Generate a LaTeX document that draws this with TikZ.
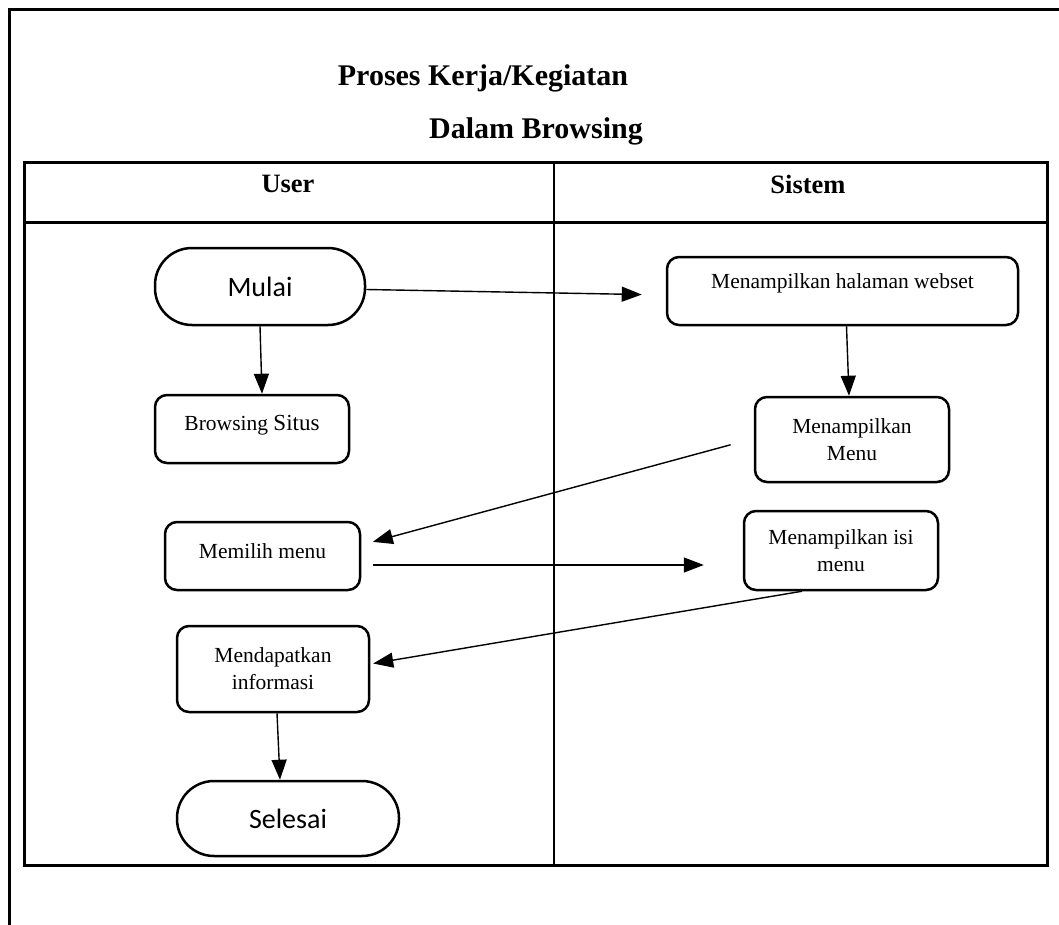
\documentclass[tikz,border=0pt]{standalone}
\usepackage{fontspec}
\setmainfont{Liberation Serif}
\newfontfamily\calfont{Carlito}
\usetikzlibrary{arrows.meta}
\tikzset{
  frame/.style={line width=3pt},
  procbox/.style={draw, line width=2.5pt, rounded corners=12pt, inner sep=0pt, align=center,
    font=\fontsize{21.5}{27}\selectfont},
  termbox/.style={draw, line width=2.5pt, rounded corners=37pt, inner sep=0pt, align=center,
    font=\calfont\fontsize{28}{34}\selectfont},
  arr/.style={line width=1.4pt, -{Triangle[length=20pt,width=15pt]}},
  titletext/.style={font=\fontsize{30}{36}\selectfont\bfseries, inner sep=0pt},
  headtext/.style={font=\fontsize{26.5}{32}\selectfont\bfseries, inner sep=0pt}
}
\begin{document}
\begin{tikzpicture}[x=1pt,y=-1pt]
\useasboundingbox (0,0) rectangle (1059,925);
% outer page frame
\draw[frame] (1059,10) -- (9,10) -- (9,925);
% table
\draw[frame] (24,163) rectangle (1047,865);
\draw[frame] (24,223) -- (1047,223);
\draw[line width=2pt] (554,163) -- (554,865);
% titles
\node[titletext] (t1) at (483,78) {Proses Kerja/Kegiatan};
\node[titletext] (t2) at (536,131) {Dalam Browsing};
\node[headtext] (hu) at (288,184) {User};
\node[headtext] (hs) at (808,184) {Sistem};
% nodes
\node[termbox, minimum width=210pt, minimum height=77pt] (mulai) at (260,286.5) {Mulai};
\node[procbox, minimum width=194pt, minimum height=68pt, text depth=13pt] (browse) at (252,429) {Browsing {\fontsize{23}{27}\selectfont Situs}};
\node[procbox, minimum width=351pt, minimum height=68pt, text depth=19pt] (webset) at (842.5,291) {Menampilkan halaman webset};
\node[procbox, minimum width=194pt, minimum height=85pt] (menu) at (852,439.5) {Menampilkan\\Menu};
\node[procbox, minimum width=195pt, minimum height=68pt, text depth=10pt] (pilih) at (262.5,556) {Memilih menu};
\node[procbox, minimum width=194pt, minimum height=79pt] (isi) at (841,550.5) {Menampilkan isi\\menu};
\node[procbox, minimum width=192pt, minimum height=86pt] (dapat) at (273,669) {Mendapatkan\\informasi};
\node[termbox, minimum width=222pt, minimum height=75pt] (selesai) at (288,818.5) {Selesai};
% connectors
\draw[arr, shorten >=24pt] ([yshift=-3pt]mulai.east) -- ([yshift=-4pt]webset.west);
\draw[arr] (mulai.south) -- ([xshift=10pt]browse.north);
\draw[arr] ([xshift=4pt]webset.south) -- ([xshift=-3pt]menu.north);
\draw[arr, shorten <=24pt, shorten >=12pt] ([yshift=1pt]menu.west) -- ([yshift=11pt]pilih.east);
\draw[arr, shorten <=12pt, shorten >=39pt] ([yshift=-9pt]pilih.east) -- ([yshift=-14.5pt]isi.west);
\draw[arr, shorten >=3pt] ([xshift=-39pt]isi.south) -- ([yshift=5pt]dapat.east);
\draw[arr] ([xshift=4pt]dapat.south) -- ([xshift=-8pt]selesai.north);
\end{tikzpicture}
\end{document}
